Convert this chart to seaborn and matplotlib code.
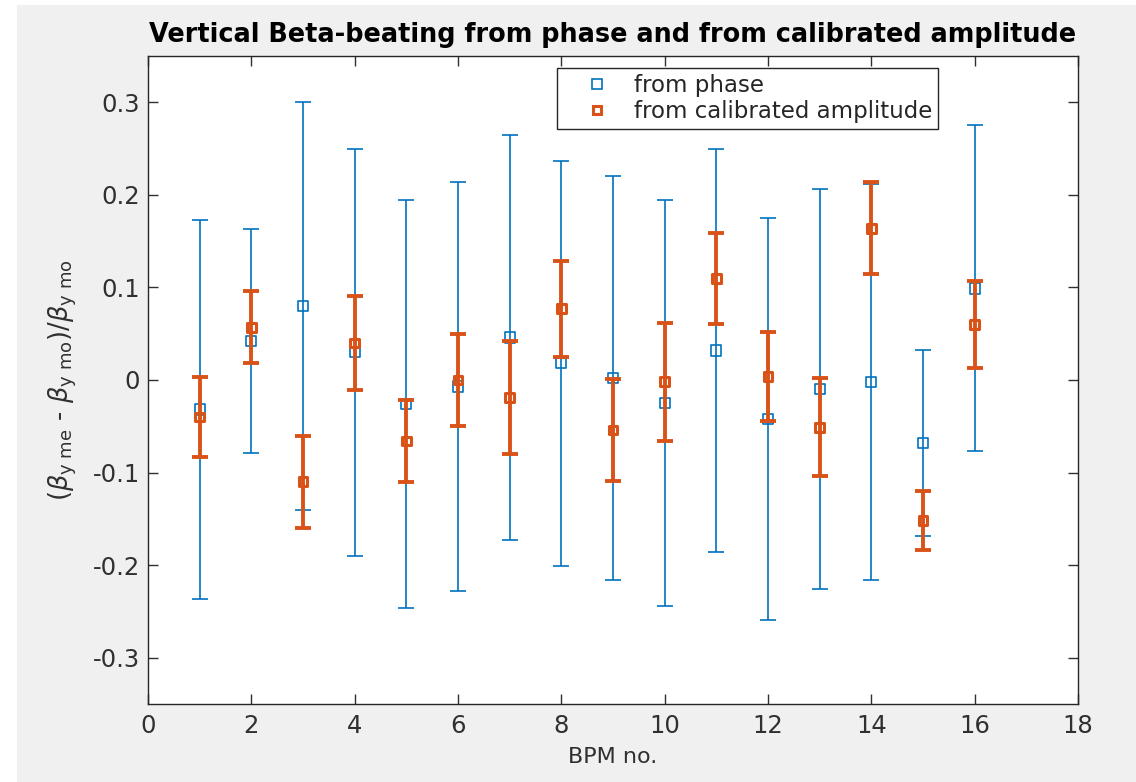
import matplotlib
matplotlib.use("Agg")
import matplotlib.pyplot as plt
import seaborn as sns
import numpy as np
import pandas as pd
from matplotlib.lines import Line2D
from matplotlib.patches import Rectangle

# ---- data ----
bpm = [1, 2, 3, 4, 5, 6, 7, 8, 9, 10, 11, 12, 13, 14, 15, 16]
phase_val = [-0.032, 0.042, 0.080, 0.030, -0.026, -0.007, 0.046, 0.018,
             0.002, -0.025, 0.032, -0.042, -0.010, -0.002, -0.068, 0.099]
phase_err = [0.205, 0.121, 0.220, 0.220, 0.220, 0.221, 0.219, 0.219,
             0.218, 0.219, 0.218, 0.217, 0.216, 0.214, 0.100, 0.176]
amp_val = [-0.040, 0.057, -0.110, 0.040, -0.066, 0.000, -0.019, 0.077,
           -0.054, -0.002, 0.110, 0.004, -0.051, 0.164, -0.152, 0.060]
amp_err = [0.043, 0.039, 0.050, 0.051, 0.044, 0.050, 0.061, 0.052,
           0.055, 0.064, 0.049, 0.048, 0.053, 0.050, 0.032, 0.047]

title = "Vertical Beta-beating from phase and from calibrated amplitude"
xlabel = "BPM no."
ylabel = r"$(\beta_{\rm y\ me}$ - $\beta_{\rm y\ mo})/\beta_{\rm y\ mo}$"
labels = ["from phase", "from calibrated amplitude"]

blue = "#0072BD"
orange = "#D95319"
textc = "#303030"

sns.set_style("white")
plt.rcParams['font.family'] = ['DejaVu Sans']

df_p = pd.DataFrame({"bpm": bpm, "val": phase_val})
df_a = pd.DataFrame({"bpm": bpm, "val": amp_val})

fig = plt.figure(figsize=(11.36, 7.82), dpi=100, facecolor="white")
fig.patches.append(Rectangle((17 / 1136, 0), 1 - 17 / 1136, 1 - 5 / 782,
                             transform=fig.transFigure, facecolor="#F0F0F0",
                             edgecolor="none", zorder=-10))
ax = fig.add_axes([148 / 1136, 1 - 704 / 782, 930 / 1136, 648 / 782])
ax.set_facecolor("white")

# phase error bars
ax.errorbar(bpm, phase_val, yerr=phase_err, fmt="none", ecolor=blue,
            elinewidth=1.2, capsize=5.5, capthick=1.2, zorder=2)
sns.scatterplot(data=df_p, x="bpm", y="val", ax=ax, marker="s", s=55,
                facecolors="none", edgecolor=blue, linewidth=1.2, zorder=3,
                legend=False)
# calibrated amplitude error bars
ax.errorbar(bpm, amp_val, yerr=amp_err, fmt="none", ecolor=orange,
            elinewidth=2.8, capsize=5.5, capthick=2.8, zorder=4)
sns.scatterplot(data=df_a, x="bpm", y="val", ax=ax, marker="s", s=40,
                facecolors="none", edgecolor=orange, linewidth=2.2, zorder=5,
                legend=False)

ax.set_xlim(0, 18)
ax.set_ylim(-0.35, 0.35)
ax.set_xticks(np.arange(0, 19, 2))
ax.set_yticks([-0.3, -0.2, -0.1, 0, 0.1, 0.2, 0.3])
ax.set_yticklabels(["-0.3", "-0.2", "-0.1", "0", "0.1", "0.2", "0.3"])
ax.tick_params(direction="in", length=7, width=1, colors=textc,
               labelsize=17.5, top=True, right=True, bottom=True, left=True)
ax.tick_params(axis="x", pad=7)
ax.tick_params(axis="y", pad=5.5)
for s in ax.spines.values():
    s.set_color("#262626")
    s.set_linewidth(1.0)
    s.set_visible(True)

ax.set_xlabel(xlabel, fontsize=16, color=textc, labelpad=7)
ax.set_ylabel(ylabel, fontsize=18.5, color=textc, labelpad=10)
ax.set_title(title, fontsize=18.4, fontweight="bold", color="black", pad=10)

handles = [
    Line2D([], [], linestyle="none", marker="s", markersize=7,
           markerfacecolor="none", markeredgecolor=blue, markeredgewidth=1.2),
    Line2D([], [], linestyle="none", marker="s", markersize=6,
           markerfacecolor="none", markeredgecolor=orange, markeredgewidth=2.2),
]
leg = ax.legend(handles, labels, loc="upper left",
                bbox_to_anchor=(0.4398, 0.981), fontsize=16.5, frameon=True,
                fancybox=False, edgecolor="#262626", handletextpad=0.1,
                borderpad=0.25, labelspacing=0.15, handlelength=3.0,
                borderaxespad=0)
leg.get_frame().set_linewidth(1.0)
leg.get_frame().set_facecolor("white")
leg.get_frame().set_alpha(1)

fig.savefig("out.png", dpi=100, facecolor=fig.get_facecolor())
